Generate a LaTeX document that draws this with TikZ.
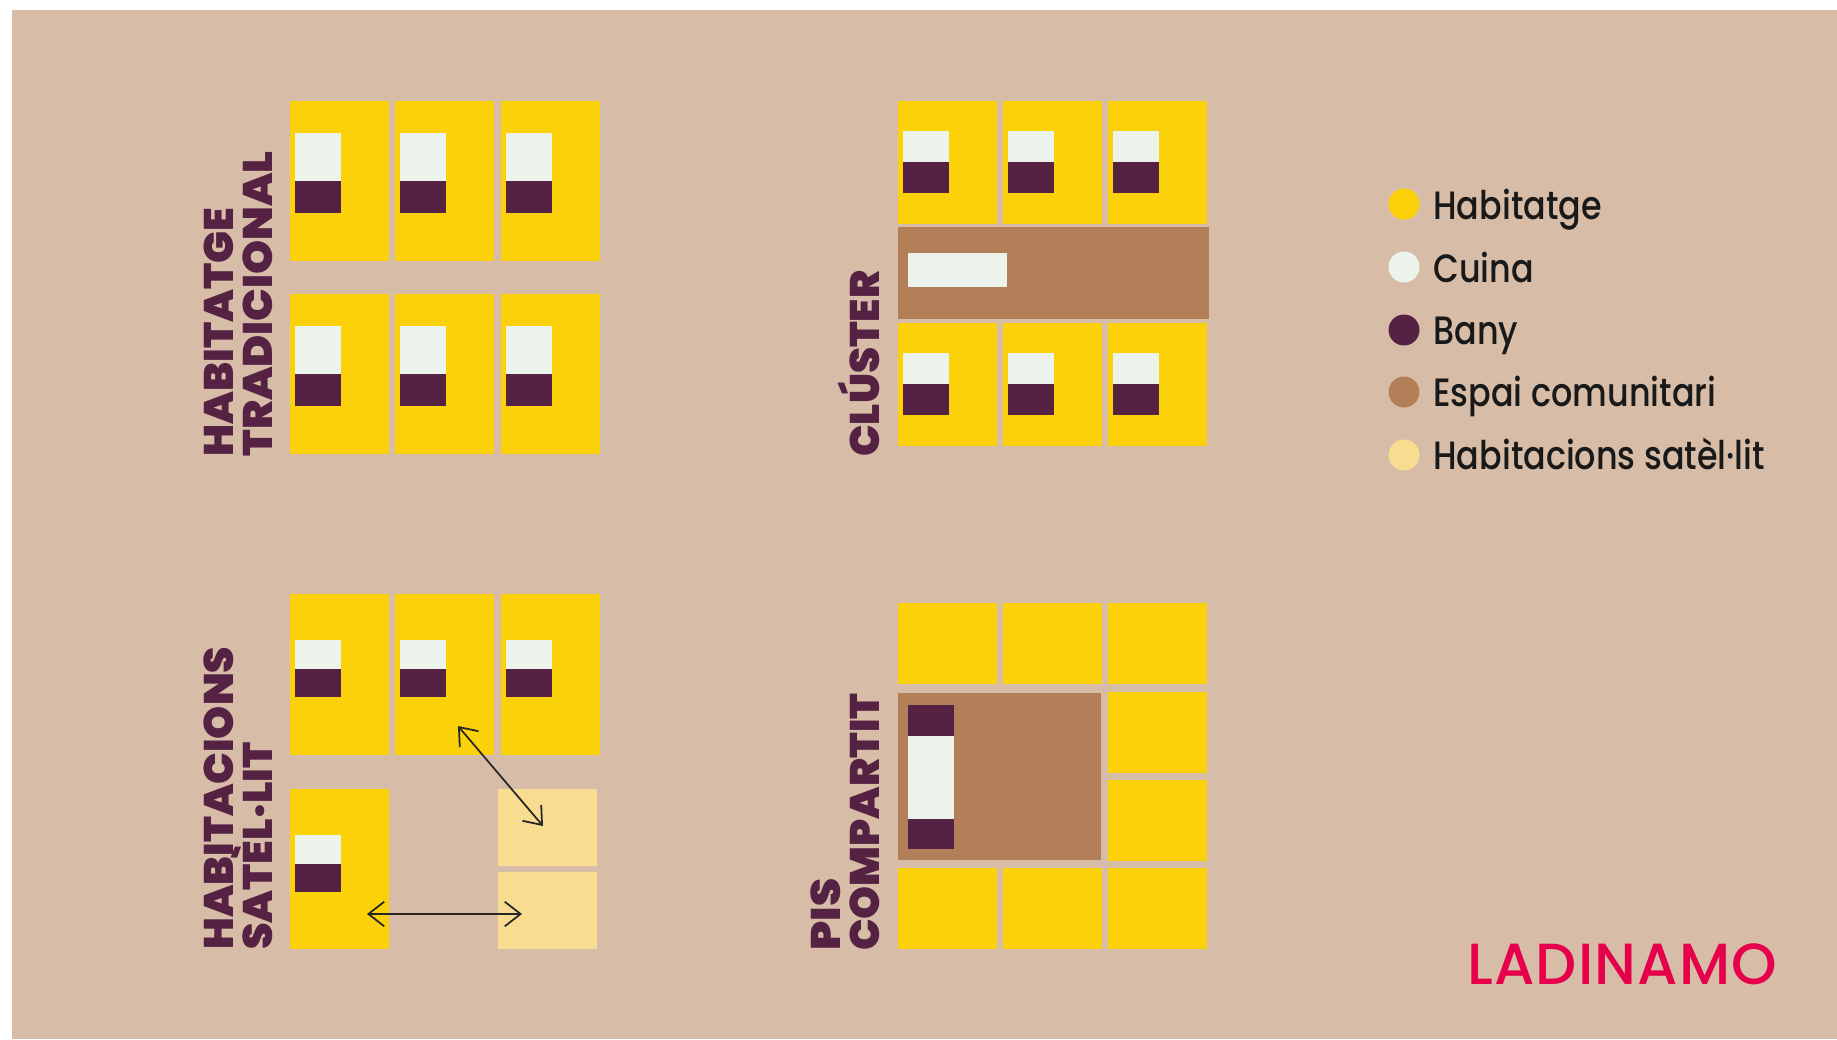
\documentclass[tikz,border=0pt]{standalone}
\usepackage{fontspec}
\newfontfamily\headfont{Poppins Black}
\newfontfamily\legendfont{Poppins Medium}[FakeStretch=0.845]
\newfontfamily\logofont{Poppins Medium}[LetterSpace=2]
\definecolor{sand}{RGB}{215,189,167}
\definecolor{habitatge}{RGB}{251,210,10}
\definecolor{cuina}{RGB}{236,243,235}
\definecolor{bany}{RGB}{85,34,68}
\definecolor{espai}{RGB}{178,127,88}
\definecolor{satellit}{RGB}{248,221,144}
\definecolor{logored}{RGB}{230,0,76}
\usetikzlibrary{arrows.meta}

\begin{document}
\begin{tikzpicture}[
    x=0.02cm, y=-0.02cm,
    house/.style={fill=habitatge},
    kitchen/.style={fill=cuina},
    bath/.style={fill=bany},
    common/.style={fill=espai},
    satroom/.style={fill=satellit},
    heading/.style={rotate=90, anchor=base west, inner sep=0, bany, font=\headfont\fontsize{23.5}{23.5}\selectfont},
    legenddot/.style={circle, minimum size=31*0.02cm, inner sep=0},
    legendtext/.style={anchor=base west, inner sep=0, black!90, font=\legendfont\fontsize{22.5}{22.5}\selectfont},
    link/.style={<->, black!85, line width=1pt, >={Straight Barb[length=9pt, width=14pt, line width=1pt]}}
]
  \useasboundingbox (0,0) rectangle (1837,1039);
  \fill[white] (0,0) rectangle (1837,1039);
  \fill[sand] (12,10) rectangle (1837,1039);

  % Habitatge tradicional
  \foreach \x in {290,395,501}{
    \foreach \y in {101,294}{
      \fill[house] (\x,\y) rectangle +(99,160);
      \fill[kitchen] (\x+5,\y+32) rectangle +(46,48);
      \fill[bath] (\x+5,\y+80) rectangle +(46,32);
    }
  }
  \node[heading, xscale=1.03] (tradA) at (233,457) {HABITATGE};
  \node[heading, xscale=1.05] (tradB) at (272,457) {TRADICIONAL};

  % Cluster
  \foreach \x in {898,1003,1108}{
    \foreach \y in {101,323}{
      \fill[house] (\x,\y) rectangle +(99,123);
      \fill[kitchen] (\x+5,\y+30) rectangle +(46,31);
      \fill[bath] (\x+5,\y+61) rectangle +(46,31);
    }
  }
  \fill[common] (898,227) rectangle (1209,319);
  \fill[kitchen] (908,253) rectangle (1007,287);
  \node[heading, xscale=1.013] (clus) at (879,457) {CLÚSTER};

  % Habitacions satel-lit
  \foreach \x in {290,395,501}{
    \fill[house] (\x,594) rectangle +(99,161);
    \fill[kitchen] (\x+5,640) rectangle +(46,29);
    \fill[bath] (\x+5,669) rectangle +(46,28);
  }
  \fill[house] (290,789) rectangle +(99,160);
  \fill[kitchen] (295,835) rectangle +(46,29);
  \fill[bath] (295,864) rectangle +(46,28);
  \fill[satroom] (498,789) rectangle +(99,77);
  \fill[satroom] (498,872) rectangle +(99,77);
  \node[heading, xscale=1.02] (satA) at (233,950) {HABITACIONS};
  \node[heading, xscale=1.03] (satB) at (272,950) {SATÈL·LIT};

  \coordinate (diagA) at (458,726);
  \coordinate (diagB) at (543,826);
  \coordinate (horA) at (367,914);
  \coordinate (horB) at (522,914);
  \draw[link] (diagA) -- (diagB);
  \draw[link] (horA) -- (horB);

  % Pis compartit
  \foreach \x in {898,1003,1108}{
    \fill[house] (\x,603) rectangle +(99,81);
    \fill[house] (\x,868) rectangle +(99,81);
  }
  \fill[house] (1108,692) rectangle +(99,81);
  \fill[house] (1108,780) rectangle +(99,81);
  \fill[common] (898,693) rectangle (1101,860);
  \fill[bath] (908,705) rectangle (954,736);
  \fill[kitchen] (908,736) rectangle (954,819);
  \fill[bath] (908,819) rectangle (954,849);
  \node[heading, xscale=1.09] (pisA) at (840,951) {PIS};
  \node[heading, xscale=1.015] (pisB) at (879,951) {COMPARTIT};

  % Legend
  \foreach \name/\col/\y/\base/\txt in {
      a/habitatge/204/219/Habitatge,
      b/cuina/267/282/Cuina,
      c/bany/330/344/Bany,
      d/espai/392/406/Espai comunitari,
      e/satellit/455/469/Habitacions satèl·lit}{
    \node[legenddot, fill=\col] (dot\name) at (1404,\y) {};
    \node[legendtext] (lab\name) at (1433,\base) {\txt};
  }

  % Logo
  \node[anchor=base west, inner sep=0, logored, font=\logofont\fontsize{33}{33}\selectfont] (logo) at (1467,984) {LADINAMO};
\end{tikzpicture}
\end{document}
